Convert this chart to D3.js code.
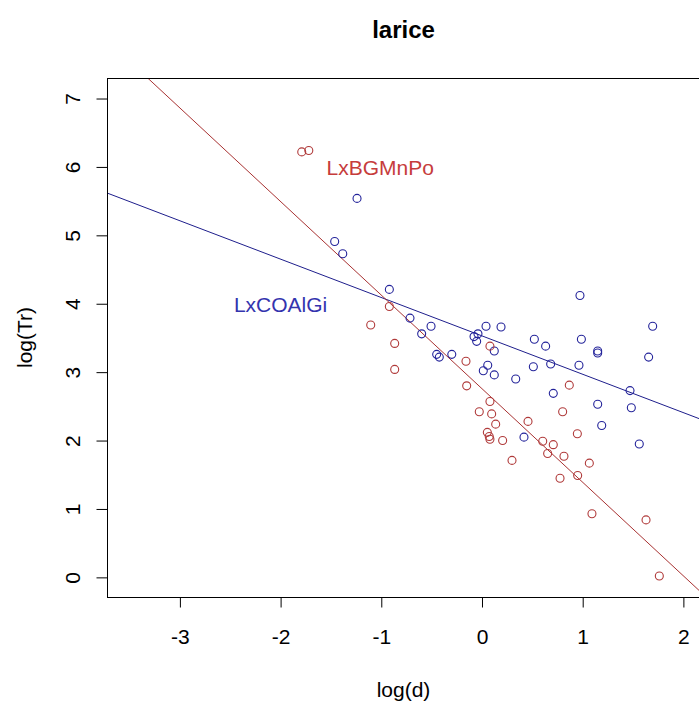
<!DOCTYPE html>
<meta charset="utf-8">
<style>
body { margin: 0; background: #fff; }
text { font-family: "Liberation Sans", Arial, sans-serif; }
.frame { fill: none; stroke: #000; stroke-width: 1px; }
.tick line { stroke: #000; }
</style>
<svg width="699" height="704"></svg>
<script src="https://d3js.org/d3.v7.min.js"></script>
<script>

// larice: log(Tr) against log(d), two groups each with a fitted line
var chartTitle = "larice";
var xTicks = [-3, -2, -1, 0, 1, 2];
var yTicks = [0, 1, 2, 3, 4, 5, 6, 7];

// LxCOAlGi (blue)
var blueX = [-1.241, -1.463, -1.383, -0.92, -0.715, -0.506, -0.599, -0.45, -0.424, -0.30,
             -0.079, -0.040, -0.053, 0.04, 0.189, 0.122, 0.057, 0.013, 0.122, 0.335,
             0.52, 0.632, 0.51, 0.682, 0.987, 0.963, 1.149, 1.149, 1.695, 1.655,
             1.47, 0.708, 1.149, 1.483, 1.189, 1.562, 0.417, 0.973];
var blueY = [5.54, 4.91, 4.73, 4.21, 3.79, 3.67, 3.56, 3.26, 3.22, 3.26,
             3.52, 3.56, 3.45, 3.67, 3.66, 3.31, 3.10, 3.02, 2.96, 2.90,
             3.48, 3.38, 3.08, 3.12, 3.48, 3.10, 3.31, 3.28, 3.67, 3.22,
             2.73, 2.69, 2.53, 2.48, 2.22, 1.95, 2.05, 4.12];

// LxBGMnPo (red)
var redX = [-1.79, -1.72, -0.92, -1.105, -0.867, -0.867, -0.159, -0.152, 0.079, 0.867,
            0.801, 0.947, 0.457, -0.027, 0.096, 0.079, 0.136, 0.053, 0.072, 0.079,
            0.205, 0.298, 0.603, 0.708, 0.652, 0.814, 1.066, 0.775, 0.950, 1.092,
            1.629, 1.761];
var redY = [6.22, 6.24, 3.96, 3.69, 3.42, 3.04, 3.16, 2.80, 3.38, 2.81,
            2.42, 2.10, 2.28, 2.42, 2.39, 2.57, 2.24, 2.12, 2.06, 2.02,
            2.00, 1.71, 1.99, 1.94, 1.81, 1.77, 1.67, 1.45, 1.49, 0.93,
            0.84, 0.02];

// regression lines: [intercept, slope]
var blueFit = [3.53, -0.561];
var redFit = [2.758, -1.368];

var svg = d3.select("svg");

// plot region (right edge runs just past the window)
var pLeft = 107, pRight = 700, pTop = 78, pBottom = 597;

var x = d3.scaleLinear().domain([-3.724, 2.165]).range([pLeft, pRight]);
var y = d3.scaleLinear().domain([-0.287, 7.30]).range([pBottom, pTop]);

var blueCol = "#23239a", redCol = "#b03a3a";

svg.append("defs").append("clipPath").attr("id", "plotclip")
  .append("rect")
    .attr("x", pLeft).attr("y", pTop)
    .attr("width", pRight - pLeft).attr("height", pBottom - pTop);

var plot = svg.append("g").attr("clip-path", "url(#plotclip)");

function fitLine(fit, col) {
  var d0 = x.domain();
  plot.append("line")
      .attr("x1", x(d0[0])).attr("y1", y(fit[0] + fit[1] * d0[0]))
      .attr("x2", x(d0[1])).attr("y2", y(fit[0] + fit[1] * d0[1]))
      .attr("stroke", col)
      .attr("stroke-width", 1);
}
fitLine(blueFit, "#1e1e8c");
fitLine(redFit, "#a83232");

function points(xs, ys, col) {
  plot.append("g")
    .selectAll("circle")
    .data(xs.map(function(v, i) { return [v, ys[i]]; }))
    .enter().append("circle")
      .attr("cx", function(d) { return x(d[0]); })
      .attr("cy", function(d) { return y(d[1]); })
      .attr("r", 4)
      .attr("fill", "none")
      .attr("stroke", col)
      .attr("stroke-width", 1.1);
}
points(blueX, blueY, blueCol);
points(redX, redY, redCol);

// group labels
svg.append("text")
    .attr("x", x(-1.01)).attr("y", y(5.88))
    .attr("text-anchor", "middle")
    .attr("font-size", 21)
    .attr("fill", "#c63c3c")
    .text("LxBGMnPo");

svg.append("text")
    .attr("x", x(-2.0)).attr("y", y(3.88))
    .attr("text-anchor", "middle")
    .attr("font-size", 21)
    .attr("fill", "#3434ae")
    .text("LxCOAlGi");

// box
svg.append("rect")
    .attr("class", "frame")
    .attr("x", pLeft + 0.5).attr("y", pTop + 0.5)
    .attr("width", pRight - pLeft).attr("height", pBottom - pTop);

// axes (R style: hyphen minus, no domain line)
var fmt = function(d) { return String(d); };

var xAxis = svg.append("g")
    .attr("transform", "translate(0," + (pBottom + 0.5) + ")")
    .call(d3.axisBottom(x).tickValues(xTicks).tickSize(10).tickPadding(22)
      .tickFormat(fmt));
xAxis.select(".domain").remove();
xAxis.selectAll("text").attr("font-size", 21).attr("fill", "#000")
    .style("font-family", "'Liberation Sans', Arial, sans-serif");

var yAxis = svg.append("g")
    .attr("transform", "translate(" + (pLeft + 0.5) + ",0)")
    .call(d3.axisLeft(y).tickValues(yTicks).tickSize(11).tickFormat(fmt));
yAxis.select(".domain").remove();
yAxis.selectAll("text").remove();
yAxis.selectAll(".tick").append("text")
    .attr("transform", "translate(-28,0) rotate(-90)")
    .attr("text-anchor", "middle")
    .attr("font-size", 21)
    .attr("fill", "#000")
    .text(fmt);

// titles
svg.append("text")
    .attr("x", (pLeft + pRight) / 2).attr("y", 38)
    .attr("text-anchor", "middle")
    .attr("font-size", 24)
    .attr("font-weight", "bold")
    .text(chartTitle);

svg.append("text")
    .attr("x", (pLeft + pRight) / 2).attr("y", 697)
    .attr("text-anchor", "middle")
    .attr("font-size", 21)
    .text("log(d)");

svg.append("text")
    .attr("transform", "translate(32," + (pTop + pBottom) / 2 + ") rotate(-90)")
    .attr("text-anchor", "middle")
    .attr("font-size", 21)
    .text("log(Tr)");

</script>
